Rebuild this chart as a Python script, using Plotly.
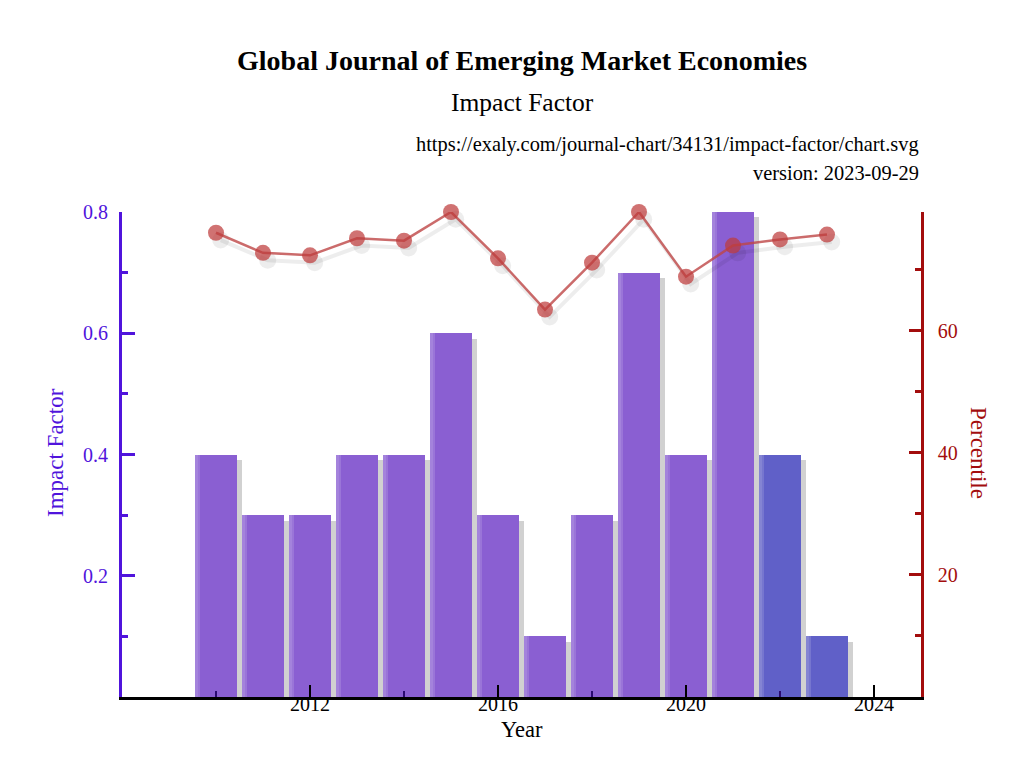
import plotly.graph_objects as go

years = [2010, 2011, 2012, 2013, 2014, 2015, 2016, 2017, 2018, 2019, 2020, 2021, 2022, 2023]
impact_factor = [0.4, 0.3, 0.3, 0.4, 0.4, 0.6, 0.3, 0.1, 0.3, 0.7, 0.4, 0.8, 0.4, 0.1]
percentile = [76.1, 72.8, 72.4, 75.2, 74.8, 79.5, 71.9, 63.5, 71.2, 79.5, 68.9, 74.0, 75.0, 75.8]

title_text = "Global Journal of Emerging Market Economies"
subtitle_text = "Impact Factor"
url_text = "https://exaly.com/journal-chart/34131/impact-factor/chart.svg"
version_text = "version: 2023-09-29"

x_ticks = [2012, 2016, 2020, 2024]
y1_ticks = [0.2, 0.4, 0.6, 0.8]
y2_ticks = [20, 40, 60]

PURPLE = "#8a5fd2"
BLUE = "#6060c8"
bar_colors = [PURPLE] * 12 + [BLUE] * 2
LEFT_C = "#5014dc"
RIGHT_C = "#a30d0d"
FONT = "Liberation Serif"

# page body has an 8px default margin; compensate so screen positions match
OFF = 8
W, H = 1024, 768
PL, PR, PT, PB = 122, 921, 212, 697  # plot area in screen pixels
L, R, T, B = PL - OFF, W - (PR - OFF), PT - OFF, H - (PB - OFF)
pw, ph = W - L - R, H - T - B

fig = go.Figure()

# bar shadows
fig.add_trace(go.Bar(
    x=years, y=[v - 0.009 for v in impact_factor], width=0.9, offset=-0.45 + 0.11,
    marker=dict(color="rgba(0,0,0,0.18)", line=dict(width=0)),
    hoverinfo="skip", showlegend=False,
))
# bars
fig.add_trace(go.Bar(
    x=years, y=impact_factor, width=0.9, offset=-0.45,
    marker=dict(color=bar_colors, line=dict(width=0)),
    showlegend=False, name="Impact Factor",
))
# left-edge highlight (gradient approximation)
fig.add_trace(go.Bar(
    x=years, y=impact_factor, width=0.12, offset=-0.45,
    marker=dict(color="rgba(255,255,255,0.14)", line=dict(width=0)),
    hoverinfo="skip", showlegend=False,
))
fig.add_trace(go.Bar(
    x=years, y=impact_factor, width=0.06, offset=-0.45,
    marker=dict(color="rgba(255,255,255,0.1)", line=dict(width=0)),
    hoverinfo="skip", showlegend=False,
))
# line shadow
fig.add_trace(go.Scatter(
    x=[y + 0.1 for y in years], y=[p - 1.2 for p in percentile], yaxis="y2",
    mode="lines+markers", cliponaxis=False,
    line=dict(color="rgba(0,0,0,0.07)", width=4),
    marker=dict(size=17, color="rgba(0,0,0,0.07)"),
    hoverinfo="skip", showlegend=False,
))
# percentile line
fig.add_trace(go.Scatter(
    x=years, y=percentile, yaxis="y2", mode="lines+markers", cliponaxis=False,
    line=dict(color="rgba(190,70,70,0.8)", width=2.5),
    marker=dict(size=16, color="rgba(190,60,60,0.72)"),
    showlegend=False, name="Percentile",
))

fig.update_layout(
    width=W, height=H,
    paper_bgcolor="white", plot_bgcolor="white",
    barmode="overlay", bargap=0,
    margin=dict(l=L, r=R, t=T, b=B, autoexpand=False),
    font=dict(family=FONT, size=20, color="black"),
    xaxis=dict(
        range=[2008, 2025], tickvals=x_ticks, ticks="inside", ticklen=12, tickwidth=2,
        tickcolor="black", showline=True, linecolor="black", linewidth=2.5,
        showgrid=False, zeroline=False, tickfont=dict(size=20, family=FONT, color="black"),
        ticklabelstandoff=-13,
        minor=dict(tick0=2010, dtick=2, ticks="inside", ticklen=6, tickwidth=2, tickcolor="#2a0a70"),
    ),
    yaxis=dict(
        range=[0, 0.8], tickvals=y1_ticks, ticks="inside", ticklen=13, tickwidth=3,
        tickcolor=LEFT_C, showline=True, linecolor=LEFT_C, linewidth=3,
        showgrid=False, zeroline=False, tickfont=dict(size=20, family=FONT, color=LEFT_C),
        ticklabelstandoff=7,
        minor=dict(dtick=0.1, ticks="inside", ticklen=6, tickwidth=3, tickcolor=LEFT_C),
    ),
    yaxis2=dict(
        range=[0, 79.5], tickvals=y2_ticks, ticks="inside", ticklen=12, tickwidth=2.5,
        tickcolor=RIGHT_C, showline=True, linecolor=RIGHT_C, linewidth=2.5,
        showgrid=False, zeroline=False, overlaying="y", side="right",
        tickfont=dict(size=20, family=FONT, color=RIGHT_C),
        ticklabelstandoff=10,
        minor=dict(dtick=10, ticks="inside", ticklen=6, tickwidth=2.5, tickcolor=RIGHT_C),
    ),
)

annos = [
    dict(text="<b>" + title_text + "</b>", x=522, y=60, font=dict(size=28, color="black")),
    dict(text=subtitle_text, x=522, y=103, font=dict(size=25.5, color="black")),
    dict(text=url_text, x=921, y=144, xanchor="right", font=dict(size=20.4, color="black")),
    dict(text=version_text, x=921, y=173, xanchor="right", font=dict(size=20.4, color="black")),
    dict(text="Year", x=522, y=729, font=dict(size=22.5, color="black")),
    dict(text="Impact Factor", x=55, y=453, textangle=-90, font=dict(size=23, color=LEFT_C)),
    dict(text="Percentile", x=979, y=453, textangle=90, font=dict(size=23, color=RIGHT_C)),
]
for a in annos:
    sx, sy = a.pop("x") - OFF, a.pop("y") - OFF  # figure pixel coords
    xa = a.pop("xanchor", "center")
    fig.add_annotation(
        x=(sx - L) / pw, y=1 - (sy - T) / ph, xref="paper", yref="paper",
        xanchor=xa, yanchor="middle", showarrow=False,
        font=dict(family=FONT, **a.pop("font")), **a,
    )

fig.write_html("out.html")
